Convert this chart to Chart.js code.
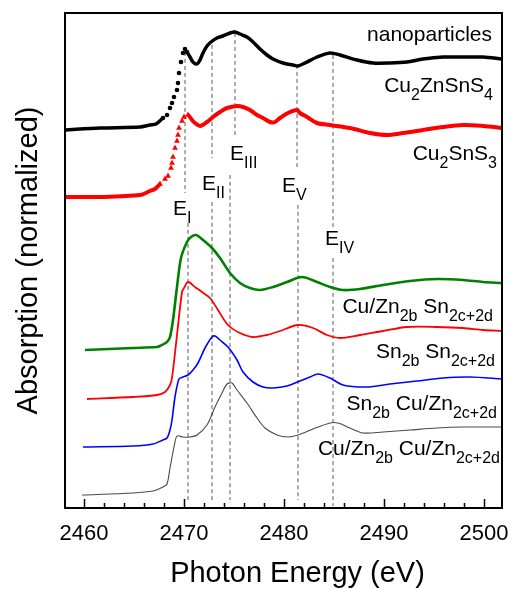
<!DOCTYPE html>
<html>
<head>
<meta charset="utf-8">
<script src="https://cdn.jsdelivr.net/npm/chart.js@4.4.1/dist/chart.umd.min.js"></script>
<style>
  html, body { margin: 0; padding: 0; background: #fff; }
  #wrap { width: 513px; height: 589px; }
</style>
</head>
<body>
<div id="wrap"><canvas id="c" width="513" height="589"></canvas></div>
<script>
// ---------- data (energy in eV, absorption in arbitrary offset units) ----------
const czts = [[2458.1,75.6],[2461.6,76.0],[2465.6,76.2],[2466.6,76.6],[2467.2,76.8],[2467.9,78.0],
  [2468.3,78.6],[2468.6,80.0],[2468.8,81.0],[2469.0,82.2],[2469.3,83.6],[2469.4,85.0],[2469.5,87.0],
  [2469.7,89.2],[2469.9,91.0],[2470.1,91.8],[2470.3,91.2],[2470.6,90.2],[2470.9,89.2],[2471.3,88.8],
  [2471.6,89.6],[2471.9,91.0],[2472.3,92.4],[2472.7,93.2],[2473.3,94.0],[2473.9,94.4],[2474.6,95.0],
  [2475.1,95.2],[2475.6,94.8],[2476.3,94.2],[2476.9,93.2],[2477.6,91.8],[2478.3,90.6],[2478.9,89.8],
  [2479.9,89.0],[2480.9,88.6],[2481.4,88.4],[2482.1,89.0],[2483.3,90.2],[2484.6,91.0],[2485.6,90.6],
  [2487.3,89.6],[2488.9,89.0],[2490.6,89.0],[2492.3,89.2],[2493.9,89.8],[2495.9,90.2],[2497.9,90.2],
  [2499.9,90.2],[2501.8,89.8]];
const cts = [[2458.1,62.2],[2461.6,62.2],[2465.6,62.6],[2466.6,63.4],[2467.1,63.8],[2467.6,64.8],
  [2468.1,65.8],[2468.4,66.4],[2468.7,68.0],[2468.8,69.0],[2468.9,70.2],[2469.1,72.0],[2469.3,73.4],
  [2469.4,74.6],[2469.5,76.0],[2469.8,77.4],[2470.0,78.2],[2470.4,78.6],[2470.8,77.6],[2471.1,77.0],
  [2471.6,76.4],[2472.3,77.2],[2472.9,78.2],[2473.6,79.2],[2474.3,80.0],[2475.3,80.4],[2475.9,80.2],
  [2476.6,79.6],[2477.3,78.6],[2477.9,78.0],[2478.6,77.2],[2479.1,77.2],[2479.6,78.0],[2480.4,79.0],
  [2481.3,79.6],[2481.6,79.0],[2482.3,78.2],[2483.3,77.0],[2484.6,76.6],[2486.6,76.0],[2488.6,75.0],
  [2490.3,74.6],[2491.9,75.0],[2493.9,75.6],[2495.9,76.2],[2497.9,76.6],[2499.9,76.4],[2501.8,76.0]];
const cuznSn = [[2460.1,31.6],[2464.9,32.0],[2467.3,32.2],[2467.6,32.4],[2468.3,33.2],[2468.6,34.2],
  [2468.9,37.6],[2469.3,44.2],[2469.7,50.0],[2470.3,53.2],[2470.7,54.2],[2471.2,54.6],[2471.9,53.6],
  [2472.8,52.0],[2473.6,50.0],[2474.6,47.0],[2475.6,45.0],[2476.6,44.0],[2477.6,43.6],[2478.9,44.2],
  [2480.3,45.2],[2481.8,46.2],[2483.3,45.2],[2484.6,44.2],[2485.9,43.6],[2487.6,43.8],[2489.9,44.6],
  [2492.6,45.4],[2495.3,45.8],[2497.9,45.6],[2499.9,45.2],[2501.8,45.0]];
const snSn = [[2460.3,21.8],[2464.9,22.2],[2467.3,22.6],[2468.1,23.2],[2468.6,24.6],[2468.8,26.0],
  [2469.3,34.6],[2469.8,43.2],[2470.0,44.0],[2470.4,45.2],[2471.1,44.2],[2471.8,43.2],[2472.6,42.0],
  [2473.4,39.6],[2474.4,36.6],[2475.6,35.0],[2476.9,34.2],[2478.3,34.6],[2479.6,35.4],[2481.4,36.6],
  [2482.9,36.0],[2484.3,34.6],[2485.6,34.0],[2487.6,34.6],[2489.9,35.4],[2492.3,36.2],[2495.3,36.2],
  [2497.9,36.0],[2499.9,35.6],[2501.8,35.4]];
const snCuzn = [[2459.9,12.2],[2464.9,12.4],[2466.9,12.8],[2467.9,13.6],[2468.3,14.0],[2468.6,15.6],
  [2468.8,17.6],[2469.1,22.2],[2469.5,25.8],[2469.9,26.2],[2470.4,26.6],[2470.9,27.6],[2471.4,29.0],
  [2472.1,32.0],[2472.8,34.2],[2473.1,34.4],[2473.6,33.6],[2474.4,32.2],[2475.3,29.6],[2475.9,27.2],
  [2476.9,25.2],[2477.9,24.2],[2478.9,24.0],[2480.3,24.4],[2481.6,25.4],[2482.6,26.2],[2483.4,26.8],
  [2484.6,26.0],[2485.9,24.6],[2488.3,24.2],[2490.6,24.8],[2493.3,25.4],[2495.9,26.0],[2498.6,26.2],
  [2501.8,25.8]];
const cuznCuzn = [[2459.8,2.6],[2464.9,3.0],[2466.9,3.4],[2467.9,4.2],[2468.3,4.8],[2468.6,8.0],
  [2469.0,12.2],[2469.3,14.4],[2469.9,14.2],[2470.6,14.2],[2471.3,14.6],[2472.3,16.6],[2473.1,20.2],
  [2473.8,23.0],[2474.3,24.8],[2474.8,25.0],[2475.3,23.6],[2476.3,21.0],[2477.3,18.0],[2478.1,16.0],
  [2479.3,14.6],[2480.4,14.2],[2481.4,14.6],[2482.9,15.8],[2484.6,17.0],[2485.4,17.0],[2486.6,16.0],
  [2487.9,15.0],[2489.9,15.2],[2492.6,15.6],[2495.3,16.0],[2497.9,16.2],[2501.8,16.2]];
// feature markers: [energy, yTop, yBottom] for the upper and lower dashed pieces
const markerUpper = [[2470.1,91.2,63.0],[2472.8,92.6,70.0],[2475.1,95.0,74.2],[2481.3,88.6,67.6],[2484.9,90.6,56.0]];
const markerLower = [[2470.4,57.0,1.6],[2472.8,61.2,1.6],[2474.6,66.6,1.6],[2481.4,60.6,1.6],[2484.9,50.0,0.4]];
// text labels: [text, energy, y]
const featureLabels = [['E_{I}',2468.9,58.6],['E_{II}',2471.8,63.6],['E_{III}',2474.6,69.6],['E_{V}',2479.8,63.2],['E_{IV}',2484.1,52.6]];
const seriesLabels = [['nanoparticles',2500.8,93.4],['Cu_{2}ZnSnS_{4}',2500.9,83.2],['Cu_{2}SnS_{3}',2501.3,69.6],
  ['Cu/Zn_{2b} Sn_{2c+2d}',2500.9,39.0],['Sn_{2b} Sn_{2c+2d}',2501.1,30.0],['Sn_{2b} Cu/Zn_{2c+2d}',2501.3,19.6],
  ['Cu/Zn_{2b} Cu/Zn_{2c+2d}',2501.6,10.6]];
const majorTicks = [2460, 2470, 2480, 2490, 2500];
const xTitle = 'Photon Energy (eV)';
const yTitle = 'Absorption (normalized)';

// ---------- helpers ----------
const FONT = "'Liberation Sans', Arial, Helvetica, sans-serif";
const pts = a => a.map(p => ({x: p[0], y: p[1]}));
function markerData(list) {
  const out = [];
  list.forEach(m => { out.push({x: m[0], y: m[1]}, {x: m[0], y: m[2]}, {x: m[0], y: null}); });
  return out;
}
function edgeSeg(lo, hi) {
  return { borderColor: c => (c.p0.parsed.x >= lo && c.p1.parsed.x <= hi) ? 'rgba(0,0,0,0)' : undefined };
}
function edgeRadius(lo, hi, r) {
  return c => { const v = c.raw; return (v && v.x >= lo && v.x <= hi) ? r : 0; };
}
function parseRich(s) {
  const parts = []; const re = /_\{([^}]*)\}/g; let last = 0, m;
  while ((m = re.exec(s))) { if (m.index > last) parts.push({t: s.slice(last, m.index), sub: false}); parts.push({t: m[1], sub: true}); last = re.lastIndex; }
  if (last < s.length) parts.push({t: s.slice(last), sub: false});
  return parts;
}
function drawRich(ctx, s, x, y, align, main, sub, drop) {
  const parts = parseRich(s);
  let w = 0;
  parts.forEach(p => { ctx.font = (p.sub ? sub : main) + 'px ' + FONT; p.w = ctx.measureText(p.t).width; w += p.w; });
  let cx = align === 'right' ? x - w : x;
  ctx.textAlign = 'left'; ctx.textBaseline = 'alphabetic';
  parts.forEach(p => { ctx.font = (p.sub ? sub : main) + 'px ' + FONT; ctx.fillText(p.t, cx, p.sub ? y + drop : y); cx += p.w; });
}

const deco = {
  id: 'deco',
  afterDatasetsDraw(chart) {
    const {ctx, chartArea: a, scales: {x, y}} = chart;
    ctx.save();
    ctx.fillStyle = '#000';
    featureLabels.forEach(l => drawRich(ctx, l[0], x.getPixelForValue(l[1]), y.getPixelForValue(l[2]), 'left', 21, 16, 8));
    seriesLabels.forEach(l => drawRich(ctx, l[0], x.getPixelForValue(l[1]), y.getPixelForValue(l[2]), 'right', 21, 16, 8));
    // frame
    ctx.strokeStyle = '#000'; ctx.lineWidth = 2;
    ctx.strokeRect(a.left, a.top, a.right - a.left, a.bottom - a.top);
    // inward tick marks
    ctx.lineWidth = 1.5;
    for (let v = majorTicks[0]; v <= majorTicks[majorTicks.length - 1]; v += 2) {
      const px = Math.round(x.getPixelForValue(v)) + 0.5;
      const len = majorTicks.includes(v) ? 9 : 5;
      ctx.beginPath(); ctx.moveTo(px, a.bottom); ctx.lineTo(px, a.bottom - len); ctx.stroke();
    }
    // axis titles
    ctx.font = '29px ' + FONT; ctx.textAlign = 'center'; ctx.textBaseline = 'alphabetic';
    ctx.fillText(xTitle, 297.5, 582);
    ctx.translate(37, (a.top + a.bottom) / 2);
    ctx.rotate(-Math.PI / 2);
    ctx.fillText(yTitle, 0, 0);
    ctx.restore();
  }
};

const dashStyle = {type: 'scatter', showLine: true, borderColor: '#5a5a5a', borderWidth: 1, borderDash: [4, 3], pointRadius: 0, spanGaps: false, order: 20};

new Chart(document.getElementById('c'), {
  type: 'scatter',
  data: {
    datasets: [
      Object.assign({data: markerData(markerUpper)}, dashStyle),
      Object.assign({data: markerData(markerLower)}, dashStyle),
      {data: pts(czts), showLine: true, borderColor: '#000', backgroundColor: '#000', borderWidth: 3.5,
        pointRadius: edgeRadius(2467.8, 2470.35, 2.3), pointBorderWidth: 0, pointStyle: 'circle',
        segment: edgeSeg(2467.8, 2470.35), order: 1},
      {data: pts(cts), showLine: true, borderColor: '#ff0000', backgroundColor: '#ff0000', borderWidth: 4,
        pointRadius: edgeRadius(2467.5, 2470.45, 3.4), pointBorderWidth: 0, pointStyle: 'triangle',
        segment: edgeSeg(2467.5, 2470.45), order: 1},
      {data: pts(cuznSn), showLine: true, borderColor: '#008000', borderWidth: 2.6, pointRadius: 0, order: 1},
      {data: pts(snSn), showLine: true, borderColor: '#ff0000', borderWidth: 1.8, pointRadius: 0, order: 1},
      {data: pts(snCuzn), showLine: true, borderColor: '#0000ff', borderWidth: 1.6, pointRadius: 0, order: 1},
      {data: pts(cuznCuzn), showLine: true, borderColor: '#4a4a4a', borderWidth: 1.1, pointRadius: 0, order: 1}
    ]
  },
  options: {
    responsive: false, animation: false, devicePixelRatio: 1,
    layout: {padding: {left: 0, right: 11, top: 13, bottom: 0}},
    plugins: {legend: {display: false}, tooltip: {enabled: false}},
    elements: {line: {tension: 0.3}},
    scales: {
      x: {
        type: 'linear', min: 2458.1, max: 2501.8,
        afterFit: s => { s.height = 81; s.paddingLeft = 0; s.paddingRight = 0; },
        afterBuildTicks: s => { s.ticks = majorTicks.map(v => ({value: v})); },
        grid: {display: false, drawTicks: false}, border: {display: false},
        ticks: {autoSkip: false, maxRotation: 0, padding: 13, color: '#000', font: {family: FONT, size: 22}, callback: v => String(v)}
      },
      y: {
        type: 'linear', min: 0, max: 99,
        afterFit: s => { s.width = 65; s.paddingTop = 0; s.paddingBottom = 0; },
        grid: {display: false, drawTicks: false}, border: {display: false},
        ticks: {display: false}
      }
    }
  },
  plugins: [deco]
});
</script>
</body>
</html>
